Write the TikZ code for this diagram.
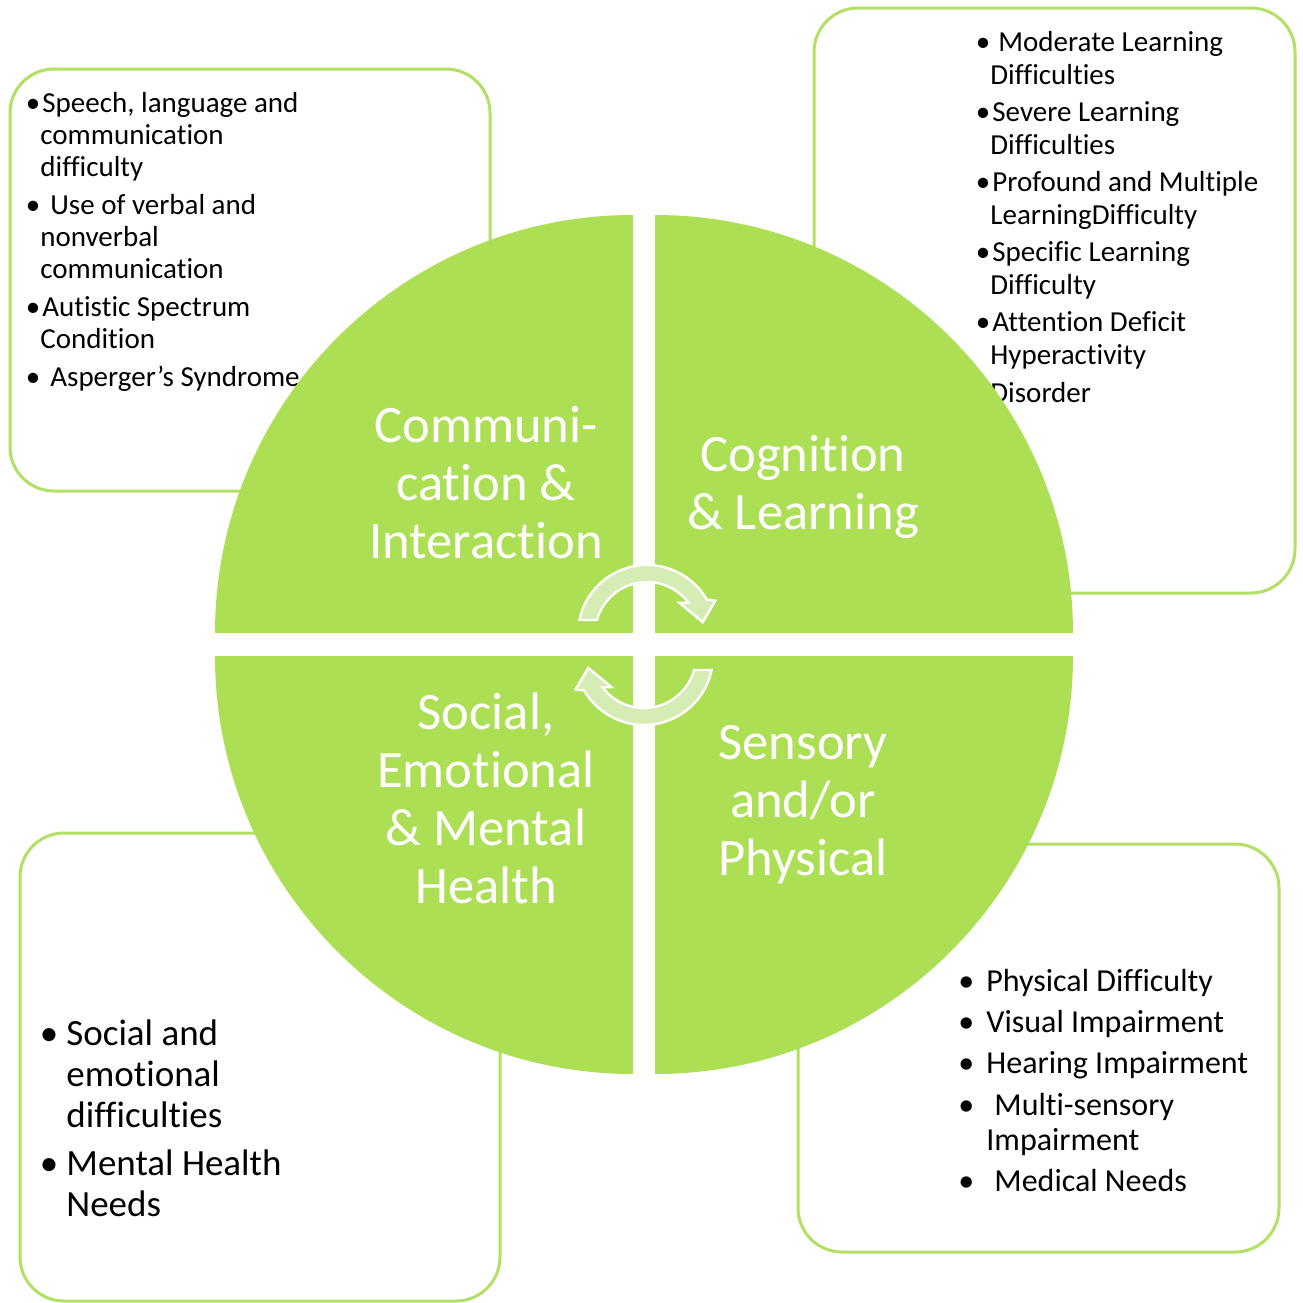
\documentclass[tikz,border=0pt]{standalone}
\usepackage{fontspec}
\setmainfont[Ligatures=NoCommon]{Carlito}
\definecolor{quad}{RGB}{173,223,85}
\definecolor{boxline}{RGB}{178,224,100}
\definecolor{arrowfill}{RGB}{213,236,181}
\newcommand{\mybul}[1]{\llap{•\hspace{#1}}}
\begin{document}
\begin{tikzpicture}[x=0.5pt,y=-0.5pt,
  boxframe/.style={draw=boxline, line width=1.5pt, rounded corners=22pt, fill=white},
  quadrant/.style={fill=quad},
  bigtext/.style={text=white, font=\fontsize{26.3}{29}\selectfont, align=flush center, text width=160pt, anchor=base, inner sep=0pt},
  smallitem/.style={font=\fontsize{14.5}{16}\selectfont, align=flush left, text width=200pt, anchor=base west, inner sep=0pt},
  tritem/.style={font=\fontsize{14.5}{16.5}\selectfont, align=flush left, text width=200pt, anchor=base west, inner sep=0pt},
  britem/.style={font=\fontsize{16}{17.5}\selectfont, align=flush left, text width=200pt, anchor=base west, inner sep=0pt},
  blitem/.style={font=\fontsize{18.5}{20.5}\selectfont, align=flush left, text width=200pt, anchor=base west, inner sep=0pt},
  circarrow/.style={fill=arrowfill, draw=white, line width=1.2pt, line join=miter}
]
\useasboundingbox (0,0) rectangle (1303,1303);
\fill[white] (0,0) rectangle (1303,1303);

% side boxes
\draw[boxframe] (10,69) rectangle (490,491);
\draw[boxframe] (814,8) rectangle (1295,593);
\draw[boxframe] (798,844) rectangle (1279,1252);
\draw[boxframe] (20,833) rectangle (500,1301);

% top-left box text
\node[smallitem] (tl1) at (40,112) {\mybul{0pt}\hspace*{1pt}Speech, language and\\communication\\difficulty};
\node[smallitem] (tl2) at (40,214) {\mybul{0pt}\hspace*{5pt}Use of verbal and\\nonverbal\\communication};
\node[smallitem] (tl3) at (40,316) {\mybul{0pt}\hspace*{1pt}Autistic Spectrum\\Condition};
\node[smallitem] (tl4) at (40,386) {\mybul{0pt}\hspace*{5pt}Asperger’s Syndrome};

% top-right box text
\node[tritem] (tr1) at (990,51) {\mybul{0pt}\hspace*{4pt}Moderate Learning\\Difficulties};
\node[tritem] (tr2) at (990,121) {\mybul{0pt}\hspace*{1pt}Severe Learning\\Difficulties};
\node[tritem] (tr3) at (990,191) {\mybul{0pt}\hspace*{1pt}Profound and Multiple\\LearningDifficulty};
\node[tritem] (tr4) at (990,261) {\mybul{0pt}\hspace*{1pt}Specific Learning\\Difficulty};
\node[tritem] (tr5) at (990,331) {\mybul{0pt}\hspace*{1pt}Attention Deficit\\Hyperactivity\\[2.5pt]Disorder};

% bottom-right box text
\node[britem] (br1) at (986,991) {\mybul{6pt}Physical Difficulty};
\node[britem] (br2) at (986,1032) {\mybul{6pt}Visual Impairment};
\node[britem] (br3) at (986,1073) {\mybul{6pt}Hearing Impairment};
\node[britem] (br4) at (986,1115) {\mybul{6pt}\hspace*{4pt}Multi-sensory\\Impairment};
\node[britem] (br5) at (986,1191) {\mybul{6pt}\hspace*{4pt}Medical Needs};

% bottom-left box text
\node[blitem] (bl1) at (66,1045) {\mybul{4pt}Social and\\emotional\\difficulties};
\node[blitem] (bl2) at (66,1175) {\mybul{4pt}Mental Health\\Needs};

% quadrants
\fill[quadrant] (633,633) -- ++(-418,0) arc[start angle=180, end angle=270, radius=418] -- cycle;
\fill[quadrant] (655,633) -- ++(0,-418) arc[start angle=270, end angle=360, radius=418] -- cycle;
\fill[quadrant] (655,656) -- ++(418,0) arc[start angle=0, end angle=90, radius=418] -- cycle;
\fill[quadrant] (633,656) -- ++(0,418) arc[start angle=90, end angle=180, radius=418] -- cycle;

% quadrant titles
\node[bigtext] (comm) at (486,442) {Communi-\\cation \&\\Interaction};
\node[bigtext] (cog) at (803,471) {Cognition\\\& Learning};
\node[bigtext] (soc) at (486,729) {Social,\\Emotional\\\& Mental\\Health};
\node[bigtext] (sens) at (803,759) {Sensory\\and/or\\Physical};

% circular arrows
\begin{scope}[shift={(647,634)}]
\draw[circarrow] (-168.3:69) arc[start angle=-168.3, end angle=-30, radius=69] -- (-26:76) -- (-12:57) -- (-44:45) -- (-37:52) arc[start angle=-37, end angle=-164.4, radius=52] -- cycle;
\end{scope}
\begin{scope}[shift={(644,656)}, rotate=180]
\draw[circarrow] (-168.3:69) arc[start angle=-168.3, end angle=-30, radius=69] -- (-26:76) -- (-12:57) -- (-44:45) -- (-37:52) arc[start angle=-37, end angle=-164.4, radius=52] -- cycle;
\end{scope}
\end{tikzpicture}
\end{document}
